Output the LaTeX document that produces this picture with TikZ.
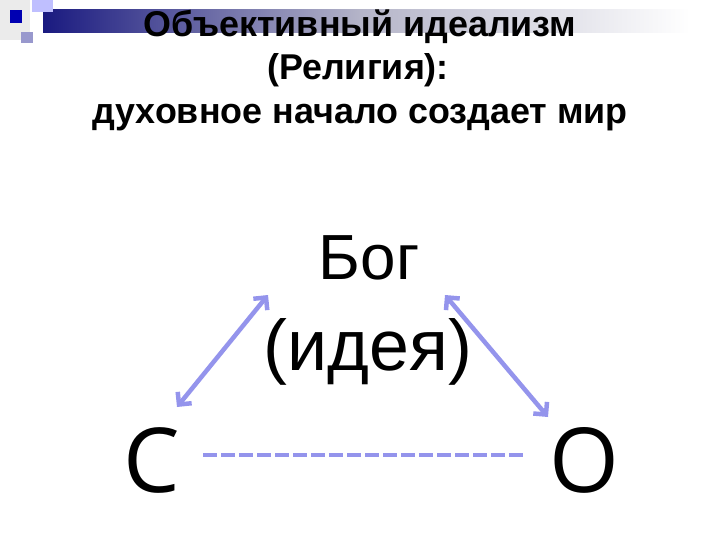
\documentclass[tikz,border=0pt]{standalone}
\usepackage{fontspec}
\setmainfont{Liberation Sans}
\newfontfamily\letterfont{Open Sans}
\usetikzlibrary{arrows.meta}
\definecolor{navy}{HTML}{1A1A80}
\definecolor{barmid}{HTML}{B4B4C8}
\definecolor{linkblue}{HTML}{9494EC}
\tikzset{
  titletext/.style={anchor=base, font=\bfseries\fontsize{36}{42}\selectfont},
  bigtext/.style={anchor=base},
  link/.style={draw=linkblue, line width=4.5bp, {Straight Barb[length=9bp,width=18bp]}-{Straight Barb[length=9bp,width=18bp]}},
  dashlink/.style={draw=linkblue, line width=4.5bp, dash pattern=on 14bp off 4bp}
}

\begin{document}
\begin{tikzpicture}[x=1bp, y=-1bp]
      \useasboundingbox (0, 0) rectangle (720, 540);

      % corner decoration
      \fill[left color=navy, right color=barmid] (43, 10) rectangle (360, 33);
      \fill[left color=barmid, right color=white] (360, 10) rectangle (690, 33);
      \fill[black!8] (0, 0) rectangle (30, 40);
      \fill[blue!25!white] (32, 0) rectangle (53, 12);
      \fill[blue!35!gray!60] (21, 32) rectangle (33, 43);
      \fill[blue!70!black] (10, 10) rectangle (22, 23);

      \node[titletext] (title1) at (360, 37) {Объективный идеализм};
      \node[titletext] (title2) at (358, 80) {(Религия):};
      \node[titletext] (title3) at (360, 124) {духовное начало создает мир};

      \node[bigtext, font=\fontsize{64}{70}\selectfont] (god) at (369, 280) {Бог};
      \node[bigtext, font=\fontsize{72}{80}\selectfont] (idea) at (368, 370) {(идея)};
      \node[bigtext, font=\letterfont\fontsize{90}{96}\selectfont] (subj) at (152, 492) {С};
      \node[bigtext, font=\letterfont\fontsize{90}{96}\selectfont] (obj) at (584, 492) {О};

      \coordinate (godL) at (268, 295);
      \coordinate (godR) at (445, 295);
      \coordinate (subjT) at (177, 407);
      \coordinate (objT) at (548, 417);
      \coordinate (dashL) at (203, 455);
      \coordinate (dashR) at (523, 455);

      \draw[link] (subjT) -- (godL);
      \draw[link] (godR) -- (objT);
      \draw[dashlink] (dashL) -- (dashR);
    \end{tikzpicture}
\end{document}
